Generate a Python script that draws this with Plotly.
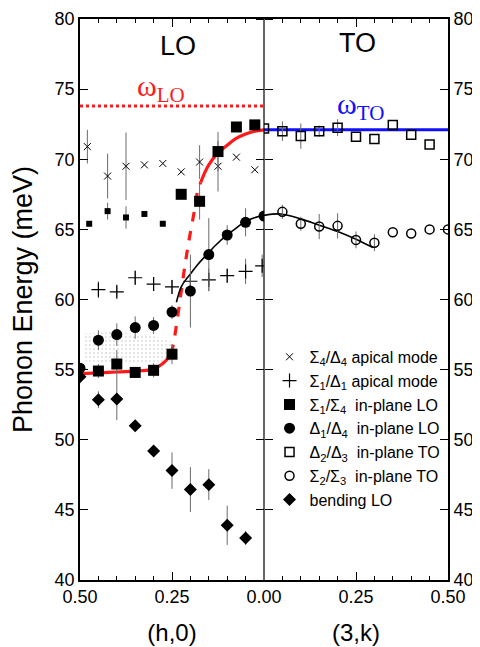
import plotly.graph_objects as go

# ---------------- data ----------------
# Sigma4/Delta4 apical mode (x markers), LO panel, h values
ap44_h = [0.48, 0.425, 0.375, 0.325, 0.275, 0.225, 0.175, 0.125, 0.075, 0.025]
ap44_E = [70.9, 68.8, 69.5, 69.6, 69.7, 69.1, 69.8, 69.5, 70.15, 69.25]
ap44_err = [1.2, 1.6, 2.4, 0, 0, 0, 1.2, 1.8, 0, 0]

# Sigma1/Delta1 apical mode (+)
ap11_h = [0.45, 0.40, 0.35, 0.30, 0.25, 0.20, 0.15, 0.10, 0.05, 0.005]
ap11_E = [60.7, 60.55, 61.55, 61.1, 60.9, 61.3, 61.4, 61.7, 62.0, 62.4]
ap11_err = [0.6, 0.4, 0.5, 0.5, 0.5, 0.6, 0.8, 0.5, 0.9, 0.8]

# Sigma1/Sigma4 in-plane LO (filled squares)
s14_h = [0.45, 0.40, 0.35, 0.30, 0.25, 0.225, 0.175, 0.125, 0.075, 0.025]
s14_E = [54.9, 55.4, 54.8, 54.95, 56.1, 67.5, 67.0, 70.55, 72.3, 72.45]
s14_err = [0.5, 1.0, 0.4, 0.5, 0.7, 0, 1.3, 1.4, 0, 0]
# weaker Sigma1/Sigma4 branch (small filled squares)
s14w_h = [0.475, 0.425, 0.375, 0.325, 0.275]
s14w_E = [65.4, 66.3, 65.85, 66.1, 65.4]
s14w_err = [0, 0.6, 0.8, 0, 0]

# Delta1/Delta4 in-plane LO (filled circles)
d14_h = [0.5, 0.45, 0.40, 0.35, 0.30, 0.25, 0.20, 0.15, 0.10, 0.05, 0.0]
d14_E = [55.1, 57.1, 57.5, 58.0, 58.15, 59.1, 60.6, 63.2, 64.6, 65.5, 65.95]
d14_err = [0, 0.7, 0.8, 0.8, 0.6, 0.5, 2.6, 2.6, 0.7, 1.0, 0]

# Delta2/Delta3 in-plane TO (open squares), TO panel, k values
d23_k = [0.0, 0.05, 0.10, 0.15, 0.20, 0.25, 0.30, 0.35, 0.40, 0.45]
d23_E = [72.2, 72.0, 71.65, 72.0, 72.25, 71.6, 71.45, 72.45, 71.75, 71.05]
d23_err = [0, 0.7, 0.9, 0.4, 0.6, 0, 0, 0, 0, 0]

# Sigma2/Sigma3 in-plane TO (open circles)
s23_k = [0.05, 0.10, 0.15, 0.20, 0.25, 0.30, 0.35, 0.40, 0.45, 0.50]
s23_E = [66.25, 65.4, 65.2, 65.25, 64.25, 64.05, 64.8, 64.7, 65.0, 65.0]
s23_err = [0.5, 0.5, 0.9, 0.9, 0.6, 0.6, 0, 0, 0, 0]

# bending LO (diamonds)
bend_h = [0.5, 0.45, 0.40, 0.35, 0.30, 0.25, 0.20, 0.15, 0.10, 0.05]
bend_E = [54.5, 52.85, 52.9, 51.0, 49.2, 47.8, 46.45, 46.8, 43.9, 43.0]
bend_err = [0, 0.6, 1.5, 0, 0, 1.3, 1.6, 1.1, 1.4, 0.5]

# guide-to-the-eye curves
lo_low_h = [0.5, 0.45, 0.40, 0.35, 0.307, 0.285, 0.27, 0.26, 0.252]
lo_low_E = [54.72, 54.77, 54.83, 54.9, 55.0, 55.25, 55.55, 55.85, 56.1]
lo_mid_h = [0.252, 0.245, 0.235, 0.217, 0.204, 0.19, 0.181, 0.172]
lo_mid_E = [56.1, 57.0, 58.7, 62.05, 64.2, 66.2, 67.65, 68.35]
lo_high_h = [0.172, 0.16, 0.15, 0.127, 0.10, 0.078, 0.05, 0.025, 0.0]
lo_high_E = [68.35, 69.1, 69.6, 70.4, 71.0, 71.45, 71.8, 72.0, 72.1]

fitL_h = [0.238, 0.225, 0.21, 0.199, 0.18, 0.159, 0.13, 0.103, 0.08, 0.055, 0.03, 0.0]
fitL_E = [59.8, 60.9, 61.5, 61.85, 62.5, 63.1, 63.9, 64.55, 65.0, 65.5, 65.8, 66.0]
fitR_k = [0.0, 0.046, 0.1, 0.15, 0.2, 0.25, 0.296]
fitR_E = [66.0, 66.1, 65.75, 65.3, 64.85, 64.3, 63.7]

omega_LO = 73.8
omega_TO = 72.1

# shaded (stippled) region
shade_h = [0.49, 0.40, 0.30, 0.25, 0.25, 0.30, 0.40, 0.49]
shade_E = [57.6, 57.7, 57.4, 57.0, 55.6, 55.5, 55.5, 55.6]

# ---------------- figure ----------------
FONT = "Arial, Liberation Sans, Helvetica, sans-serif"
SERIF = "Liberation Serif, Times New Roman, serif"
ERRC = "#6a6a6a"
RED = "#ff1a1a"
BLUE = "#1010ff"


def err(vals):
    return dict(type="data", array=vals, visible=True, thickness=1, width=0, color=ERRC)


fig = go.Figure()

# stipple
fig.add_trace(go.Scatter(x=shade_h, y=shade_E, xaxis="x", yaxis="y", mode="lines",
                         fill="toself", line=dict(width=0), fillcolor="rgba(0,0,0,0)",
                         fillpattern=dict(shape=".", fgcolor="#bbbbbb", size=4, solidity=0.2),
                         showlegend=False, hoverinfo="skip"))

# reference lines
fig.add_trace(go.Scatter(x=[0.5, 0.0], y=[omega_LO, omega_LO], xaxis="x", yaxis="y", mode="lines",
                         line=dict(color=RED, width=3, dash="dot"), showlegend=False))
fig.add_trace(go.Scatter(x=[0.0, 0.5], y=[omega_TO, omega_TO], xaxis="x2", yaxis="y2", mode="lines",
                         line=dict(color=BLUE, width=3), showlegend=False))

# LO fit (red)
fig.add_trace(go.Scatter(x=lo_low_h, y=lo_low_E, xaxis="x", yaxis="y", mode="lines",
                         line=dict(color=RED, width=3.2, shape="spline"), showlegend=False))
fig.add_trace(go.Scatter(x=lo_mid_h, y=lo_mid_E, xaxis="x", yaxis="y", mode="lines",
                         line=dict(color=RED, width=3.2, dash="dash", shape="spline"), showlegend=False))
fig.add_trace(go.Scatter(x=lo_high_h, y=lo_high_E, xaxis="x", yaxis="y", mode="lines",
                         line=dict(color=RED, width=3.2, shape="spline"), showlegend=False))

# black fits
fig.add_trace(go.Scatter(x=fitL_h, y=fitL_E, xaxis="x", yaxis="y", mode="lines",
                         line=dict(color="black", width=1.6, shape="spline"), showlegend=False))
fig.add_trace(go.Scatter(x=fitR_k, y=fitR_E, xaxis="x2", yaxis="y2", mode="lines",
                         line=dict(color="black", width=1.6, shape="spline"), showlegend=False))

# data markers
fig.add_trace(go.Scatter(x=ap44_h, y=ap44_E, error_y=err(ap44_err), xaxis="x", yaxis="y",
                         mode="markers", name="Σ<sub>4</sub>/Δ<sub>4</sub> apical mode",
                         marker=dict(symbol="x-thin", size=7, line=dict(width=1, color="black"), color="black")))
fig.add_trace(go.Scatter(x=ap11_h, y=ap11_E, error_y=err(ap11_err), xaxis="x", yaxis="y",
                         mode="markers", name="Σ<sub>1</sub>/Δ<sub>1</sub> apical mode",
                         marker=dict(symbol="cross-thin", size=10, line=dict(width=1.2, color="black"), color="black")))
fig.add_trace(go.Scatter(x=s14_h, y=s14_E, error_y=err(s14_err), xaxis="x", yaxis="y",
                         mode="markers", name="Σ<sub>1</sub>/Σ<sub>4</sub>  in-plane LO",
                         marker=dict(symbol="square", size=11, color="black")))
fig.add_trace(go.Scatter(x=s14w_h, y=s14w_E, error_y=err(s14w_err), xaxis="x", yaxis="y",
                         mode="markers", showlegend=False,
                         marker=dict(symbol="square", size=6, color="black")))
fig.add_trace(go.Scatter(x=d14_h, y=d14_E, error_y=err(d14_err), xaxis="x", yaxis="y",
                         mode="markers", name="Δ<sub>1</sub>/Δ<sub>4</sub>  in-plane LO",
                         marker=dict(symbol="circle", size=11, color="black")))
fig.add_trace(go.Scatter(x=d23_k, y=d23_E, error_y=err(d23_err), xaxis="x2", yaxis="y2",
                         mode="markers", name="Δ<sub>2</sub>/Δ<sub>3</sub>  in-plane TO",
                         marker=dict(symbol="square-open", size=9, line=dict(width=1.5, color="black"), color="black")))
fig.add_trace(go.Scatter(x=s23_k, y=s23_E, error_y=err(s23_err), xaxis="x2", yaxis="y2",
                         mode="markers", name="Σ<sub>2</sub>/Σ<sub>3</sub>  in-plane TO",
                         marker=dict(symbol="circle-open", size=9, line=dict(width=1.5, color="black"), color="black")))
fig.add_trace(go.Scatter(x=bend_h, y=bend_E, error_y=err(bend_err), xaxis="x", yaxis="y",
                         mode="markers", name="bending LO",
                         marker=dict(symbol="diamond", size=10, color="black")))

# empty traces that carry the tick-only axes on the centre line
fig.add_trace(go.Scatter(x=[None], y=[None], xaxis="x", yaxis="y3", showlegend=False, hoverinfo="skip"))
fig.add_trace(go.Scatter(x=[None], y=[None], xaxis="x", yaxis="y4", showlegend=False, hoverinfo="skip"))

xcommon = dict(showline=True, linecolor="black", linewidth=1.6, mirror="ticks",
               ticks="inside", ticklen=8, tickwidth=1.2, tickcolor="black",
               showgrid=False, zeroline=False, automargin=False,
               tickfont=dict(family=FONT, size=18, color="black"),
               minor=dict(ticks="inside", ticklen=4, tickwidth=1, tickcolor="black",
                          tickmode="linear", tick0=0, dtick=0.05, showgrid=False),
               title_font=dict(family=FONT, size=24, color="black"), title_standoff=18)
ycommon = dict(range=[40, 80], ticks="inside", ticklen=8, tickwidth=1.2, tickcolor="black",
               tickmode="linear", tick0=40, dtick=5, showgrid=False, zeroline=False,
               automargin=False, tickfont=dict(family=FONT, size=18, color="black"))

# the page body adds an 8 px offset, so the figure is 8 px smaller on each side
fig.update_layout(
    width=472, height=639,
    margin=dict(l=72, r=32, t=11, b=67),
    paper_bgcolor="white", plot_bgcolor="white",
    xaxis=dict(domain=[0, 0.5], range=[0.5, 0.0], anchor="y",
               tickmode="array", tickvals=[0.5, 0.25, 0.0], ticktext=["0.50", "0.25", "0.00"],
               title_text="(h,0)", **xcommon),
    xaxis2=dict(domain=[0.5, 1.0], range=[0.0, 0.5], anchor="y2",
                tickmode="array", tickvals=[0.25, 0.5], ticktext=["0.25", "0.50"],
                title_text="(3,k)", **xcommon),
    yaxis=dict(anchor="x", side="left", showline=True, linecolor="black", linewidth=1.8, mirror=False,
               title=dict(text="Phonon Energy (meV)", font=dict(family=FONT, size=27, color="black"),
                          standoff=20),
               **ycommon),
    yaxis2=dict(anchor="x2", side="right", matches="y", showline=True, linecolor="black",
                linewidth=1.8, mirror=False, **ycommon),
    yaxis3=dict(overlaying="y", anchor="free", position=0.5, side="left", matches="y",
                showline=False, showticklabels=False, **{**ycommon, "ticks": "outside"}),
    yaxis4=dict(overlaying="y", anchor="free", position=0.5, side="right", matches="y",
                showline=False, showticklabels=False, **{**ycommon, "ticks": "outside"}),
    legend=dict(x=0.515, y=0.428, xanchor="left", yanchor="top", bgcolor="rgba(0,0,0,0)",
                font=dict(family=FONT, size=16, color="black"), itemwidth=30,
                tracegroupgap=0),
    showlegend=True,
    shapes=[dict(type="line", xref="paper", yref="paper", x0=0.5, x1=0.5, y0=0, y1=1,
                 line=dict(color="black", width=1.2), layer="above")],
)

fig.add_annotation(x=0.235, y=78.1, xref="x", yref="y", text="LO", showarrow=False,
                   font=dict(family=FONT, size=27, color="black"))
fig.add_annotation(x=0.254, y=78.3, xref="x2", yref="y2", text="TO", showarrow=False,
                   font=dict(family=FONT, size=27, color="black"))
fig.add_annotation(x=0.28, y=75.1, xref="x", yref="y", text="ω<sub>LO</sub>", showarrow=False,
                   font=dict(family=SERIF, size=30, color=RED))
fig.add_annotation(x=0.262, y=73.8, xref="x2", yref="y2", text="ω<sub>TO</sub>", showarrow=False,
                   font=dict(family=SERIF, size=30, color=BLUE))

fig.write_html("out.html")
